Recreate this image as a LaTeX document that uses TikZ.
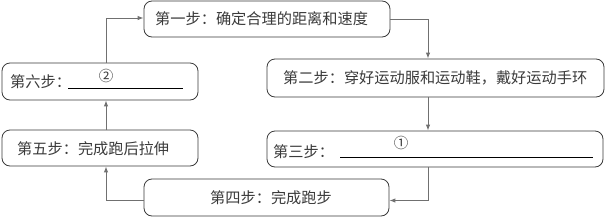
\documentclass[tikz,border=0pt]{standalone}
\usepackage{fontspec}
\newfontfamily\cjk{Noto Sans CJK SC}
\usetikzlibrary{arrows.meta}
\definecolor{linegray}{HTML}{707070}
\definecolor{boxgray}{HTML}{3A3A3A}
\definecolor{txtgray}{HTML}{3A3A3A}
\begin{document}
\begin{tikzpicture}[x=1pt,y=-1pt,
  stepbox/.style={draw=boxgray,line width=0.8pt,rounded corners=8pt,minimum width=#1,minimum height=36pt,inner sep=0pt},
  lbl/.style={anchor=west,inner sep=0pt,text=txtgray,font=\cjk\fontsize{15.2}{17}\selectfont},
  circ/.style={inner sep=0pt,text=txtgray,font=\cjk\fontsize{14.5}{16}\selectfont},
  arr/.style={draw=linegray,line width=1pt,-{Latex[length=6pt,width=4.5pt]}},
  blank/.style={draw=black,line width=0.8pt}]
\useasboundingbox (0,0) rectangle (608,220);
% boxes
\node[stepbox=246pt] (b1) at (267,19) {};
\node[stepbox=337pt,minimum height=38pt] (b2) at (435.5,78) {};
\node[stepbox=336pt] (b3) at (435,149) {};
\node[stepbox=245pt,minimum height=37pt] (b4) at (266.5,197.5) {};
\node[stepbox=196pt] (b5) at (100,148) {};
\node[stepbox=196pt,minimum height=37pt] (b6) at (100,81.5) {};
% texts
\node[lbl] (t1) at (155,19) {第一步：确定合理的距离和速度};
\node[lbl] (t2) at (283,78) {第二步：穿好运动服和运动鞋，戴好运动手环};
\node[lbl] (t3) at (273,152) {第三步：};
\node[lbl] (t4) at (210,198) {第四步：完成跑步};
\node[lbl] (t5) at (17,149) {第五步：完成跑后拉伸};
\node[lbl] (t6) at (10,82) {第六步：};
\node[circ] (n1) at (401,143) {①};
\node[circ] (n2) at (106,76) {②};
% blanks
\coordinate (u3a) at (340,157);
\coordinate (u3b) at (593,157);
\coordinate (u6a) at (68,88);
\coordinate (u6b) at (183,88);
\draw[blank] (u3a) -- (u3b);
\draw[blank] (u6a) -- (u6b);
% connector columns
\coordinate (cl) at (106,0);
\coordinate (cr) at (428,0);
\draw[arr] (b6.north -| cl) |- ([yshift=1pt]b1.west);
\draw[arr] (b1.east) -| (b2.north -| cr);
\draw[arr] (b2.south -| cr) -- (b3.north -| cr);
\draw[arr] (b3.south -| cr) |- ([yshift=-3pt]b4.east);
\draw[arr] ([yshift=-3pt]b4.west) -| (b5.south -| cl);
\draw[arr] (b5.north -| cl) -- (b6.south -| cl);
\end{tikzpicture}
\end{document}
